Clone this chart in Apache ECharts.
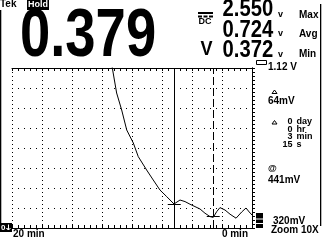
<!DOCTYPE html>
<html><head><meta charset="utf-8">
<script src="https://cdn.jsdelivr.net/npm/echarts@6/dist/echarts.min.js"></script>
<style>html,body{margin:0;padding:0;background:#fff}#c{width:322px;height:241px}</style>
</head><body><div id="c"></div>
<script>
// ---- data (minutes relative to now, volts) ----
const times = [-11.87, -11.64, -11.28, -10.86, -10.44, -9.89, -9.48, -8.78, -8.23, -7.67, -7.11, -6.50, -6.00, -5.58, -5.17, -4.75, -4.33, -3.92, -3.50, -3.23, -2.94, -2.67, -2.25, -1.83, -1.33, -0.86, -0.50, -0.23, 0];
const volts = [1.20, 1.12, 0.995, 0.91, 0.81, 0.745, 0.677, 0.61, 0.56, 0.51, 0.477, 0.44, 0.46, 0.452, 0.439, 0.427, 0.415, 0.394, 0.377, 0.373, 0.402, 0.422, 0.41, 0.389, 0.369, 0.40, 0.42, 0.40, 0.385];
const cursorTimes = [-6.48, -3.23];
const cursorVolts = [0.441, 0.377];
const cursorHalfWidth = 0.54;
const xLabelValues = [-20, 0];
const xLabelTexts = ['20 min', '0 min'];
const yRange = [0.32, 1.12];
const yRangeLabels = ['1.12 V', '320mV'];
const mainReading = '0.379';
const statValues = ['2.550', '0.724', '0.372'];
const statNames = ['Max', 'Avg', 'Min'];
const deltaVolt = '64mV';
const deltaTimeNums = ['0', '0', '3', '15'];
const deltaTimeUnits = ['day', 'hr', 'min', 's'];
const cursorLevel = '441mV';
const zoomLabel = 'Zoom 10X';

const SMALL = "'Liberation Sans', Arial, sans-serif";

function txt(text, x, y, size, opts) {
  opts = opts || {};
  const a = opts.align || 'left';
  const el = {type: 'text', z: 100, style: {text: text, x: 0, y: 0,
    font: 'bold ' + size + 'px ' + SMALL, fill: opts.fill || '#000',
    align: a, textAlign: a, verticalAlign: 'middle', textVerticalAlign: 'middle'},
    x: x, y: y};
  if (opts.sx) { el.scaleX = opts.sx; el.originX = 0; el.originY = 0; }
  return el;
}
function rect(x, y, w, h, fill) {
  return {type: 'rect', z: 100, shape: {x: x, y: y, width: w, height: h}, style: {fill: fill || '#000'}};
}

const statY = [10, 30.5, 51];
const unitY = [15, 33.5, 55];
const nameY = [15, 34, 54.5];
const dtY = [121.5, 129.5, 137, 144.5];

const graphics = [
  txt('Tek', 0, 4.5, 10),
  rect(27, 0, 22, 10),
  txt('Hold', 38, 5, 9, {fill: '#fff', align: 'center'}),
  txt(mainReading, 20, 37.5, 68, {sx: 0.8}),
  // DC symbol
  rect(198, 12, 15, 2),
  rect(198, 15.5, 4, 2), rect(203.5, 15.5, 4, 2), rect(209, 15.5, 4, 2),
  txt('DC', 198.5, 22, 9),
  txt('V', 200.5, 49.5, 21, {sx: 0.86}),
  // screen edges
  rect(0, 10, 1.3, 213),
  rect(320, 4, 1.3, 222),
  // range markers
  {type: 'rect', z: 100, shape: {x: 256.5, y: 60.5, width: 10, height: 4}, style: {fill: null, stroke: '#000', lineWidth: 1}},
  txt(yRangeLabels[0], 268, 67, 10),
  {type: 'polygon', z: 100, shape: {points: [[272, 93.5], [274.5, 90], [277, 93.5]]}, style: {fill: null, stroke: '#000', lineWidth: 1}},
  txt(deltaVolt, 268, 101.5, 10),
  {type: 'polygon', z: 100, shape: {points: [[272, 124], [274.5, 120.5], [277, 124]]}, style: {fill: null, stroke: '#000', lineWidth: 1}},
  txt('@', 268, 169, 9),
  txt(cursorLevel, 268, 180, 10),
  rect(256, 213, 7, 15),
  rect(256, 218.5, 7, 1, '#fff'),
  rect(256, 223, 7, 1, '#fff'),
  txt(yRangeLabels[1], 273, 221.5, 10),
  txt(zoomLabel, 271, 230.5, 10),
  rect(0, 223, 12, 9),
  txt('0', 1, 227.5, 8, {fill: '#fff'}),
  {type: 'polyline', z: 101, shape: {points: [[8.5, 224.5], [8.5, 230], [6.5, 228], [8.5, 230], [10.5, 228]]}, style: {stroke: '#fff', lineWidth: 1, fill: null}}
];
statValues.forEach(function (v, i) {
  graphics.push(txt(v, 222.5, statY[i], 23, {sx: 0.88}));
  graphics.push(txt('v', 278, unitY[i], 9));
  graphics.push(txt(statNames[i], 299, nameY[i], 10));
});
deltaTimeNums.forEach(function (n, i) {
  graphics.push(txt(n, 292.5, dtY[i], 9, {align: 'right'}));
  graphics.push(txt(deltaTimeUnits[i], 296.5, dtY[i], 9));
});

const tickCommon = {
  axisLine: {show: true, lineStyle: {color: '#000', width: 1}},
  axisTick: {show: true, inside: true, length: 3, lineStyle: {color: '#000', width: 1}},
  minorTick: {show: true, splitNumber: 5, length: 3, lineStyle: {color: '#000', width: 1}}
};

const chart = echarts.init(document.getElementById('c'), null, {renderer: 'canvas'});
chart.setOption({
  animation: false,
  backgroundColor: '#fff',
  grid: {left: 12, top: 68, width: 240, height: 160, show: false, containLabel: false, outerBoundsMode: 'none'},
  xAxis: [
    Object.assign({type: 'value', min: -20, max: 0, interval: 2.5, position: 'bottom',
      splitLine: {show: true, lineStyle: {color: '#000', width: 1, type: [1, 3]}},
      axisLabel: {show: true, margin: 1, color: '#000', fontSize: 10, fontWeight: 'bold', fontFamily: SMALL,
        padding: [0, 4, 0, 1], alignMinLabel: 'left', alignMaxLabel: 'right', showMinLabel: true, showMaxLabel: true,
        formatter: function (v) { const i = xLabelValues.indexOf(v); return i >= 0 ? xLabelTexts[i] : ''; }}
    }, tickCommon),
    Object.assign({type: 'value', min: -20, max: 0, interval: 2.5, position: 'top',
      splitLine: {show: false}, axisLabel: {show: false}}, tickCommon)
  ],
  yAxis: [
    Object.assign({type: 'value', min: yRange[0], max: yRange[1], interval: 0.1, position: 'left',
      splitLine: {show: true, lineStyle: {color: '#000', width: 1, type: [1, 5]}},
      axisLabel: {show: false}}, tickCommon),
    {type: 'value', min: yRange[0], max: yRange[1], interval: 0.1, position: 'right',
      axisLine: {show: true, lineStyle: {color: '#000', width: 1}}, axisTick: {show: false},
      splitLine: {show: false}, axisLabel: {show: false}}
  ],
  graphic: graphics,
  series: [{
    type: 'line', xAxisIndex: 0, yAxisIndex: 0, silent: true, symbol: 'none', showSymbol: false,
    clip: true, lineStyle: {color: '#000', width: 1},
    data: times.map(function (t, i) { return [t, volts[i]]; }),
    markLine: {
      silent: true, symbol: ['none', 'none'], animation: false, label: {show: false},
      lineStyle: {color: '#000', width: 1, type: 'solid'},
      data: [
        {xAxis: cursorTimes[0], lineStyle: {color: '#000', width: 1, type: 'solid'}},
        {xAxis: cursorTimes[1], lineStyle: {color: '#000', width: 1, type: [8, 3]}},
        [{coord: [cursorTimes[0] - cursorHalfWidth, cursorVolts[0]]}, {coord: [cursorTimes[0] + cursorHalfWidth, cursorVolts[0]]}],
        [{coord: [cursorTimes[1] - cursorHalfWidth, cursorVolts[1]]}, {coord: [cursorTimes[1] + cursorHalfWidth, cursorVolts[1]]}]
      ]
    }
  }]
});
</script></body></html>
